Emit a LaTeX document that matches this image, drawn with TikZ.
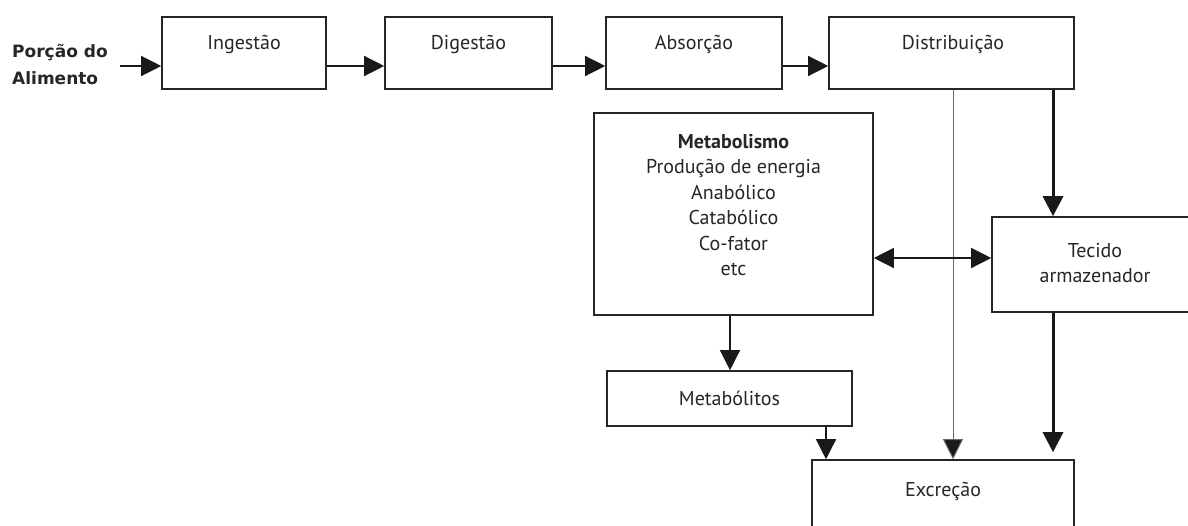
\documentclass[tikz,border=0pt]{standalone}
\usepackage{fontspec}
\setmainfont{PT Sans}
\newfontfamily\lblfont{DejaVu Sans}
\usetikzlibrary{arrows.meta}
\begin{document}
\begin{tikzpicture}[x=1pt,y=-1pt,
  box/.style={draw=black!85, line width=1.6pt, rectangle, inner sep=0pt},
  txt/.style={font=\fontsize{20}{25.5}\selectfont, text=black!85, inner sep=0pt, align=center},
  arr/.style={draw=black!90, line width=1.3pt, -{Triangle[length=20pt,width=20pt]}},
  darr/.style={draw=black!90, line width=1.3pt, {Triangle[length=20pt,width=20pt]}-{Triangle[length=20pt,width=20pt]}},
  thinarr/.style={draw=black!60, line width=1pt, -{Triangle[length=20pt,width=20pt,fill=black!90]}},
  thickarr/.style={draw=black!90, line width=3pt, -{Triangle[length=20pt,width=20pt]}}]
\clip (0,0) rectangle (1188,525);
\fill[white] (0,0) rectangle (1188,525);

% boxes
\node[box, minimum width=164pt, minimum height=72pt] (ing) at (244,53) {};
\node[box, minimum width=167pt, minimum height=72pt] (dig) at (468.5,53) {};
\node[box, minimum width=176pt, minimum height=72pt] (abs) at (694,53) {};
\node[box, minimum width=245pt, minimum height=72pt] (dis) at (951.5,53) {};
\node[box, minimum width=279pt, minimum height=202pt] (met) at (733.5,214) {};
\node[box, minimum width=206pt, minimum height=95pt] (tec) at (1095,264.5) {};
\node[box, minimum width=245pt, minimum height=55pt] (mtb) at (729.5,398.5) {};
\node[box, minimum width=262pt, minimum height=110pt] (exc) at (943,515) {};

% texts
\node[txt] (ting) at (244,44) {Ingestão};
\node[txt] (tdig) at (468.5,44) {Digestão};
\node[txt] (tabs) at (694,44) {Absorção};
\node[txt] (tdis) at (953,44) {Distribuição};
\node[txt, anchor=north] (tmet) at (733.5,134) {\textbf{Metabolismo}\\Produção de energia\\Anabólico\\Catabólico\\Co-fator\\etc};
\node[txt] (ttec) at (1095,263) {Tecido\\armazenador};
\node[txt] (tmtb) at (729.5,398) {Metabólitos};
\node[txt] (texc) at (943,491) {Excreção};
\node[anchor=west, inner sep=0pt, align=left, font=\lblfont\bfseries\fontsize{17}{27}\selectfont, text=black!85] (food) at (12,65) {Porção do\\Alimento};

% connector coordinates
\coordinate (a0) at (120,66);
\coordinate (xthin) at (953,0);
\coordinate (xthick) at (1053,0);
\coordinate (ymt) at (0,258);
\coordinate (xm) at (730,0);
\coordinate (xe) at (826,0);

\draw[arr] (a0) -- (a0 -| ing.west);
\draw[arr] (ing.east |- a0) -- (dig.west |- a0);
\draw[arr] (dig.east |- a0) -- (abs.west |- a0);
\draw[arr] (abs.east |- a0) -- (dis.west |- a0);
\draw[thinarr] (dis.south -| xthin) -- (exc.north -| xthin);
\draw[thickarr] (dis.south -| xthick) -- (tec.north -| xthick);
\draw[thickarr, shorten >=7pt] (tec.south -| xthick) -- (exc.north -| xthick);
\draw[darr] (met.east |- ymt) -- (tec.west |- ymt);
\draw[arr] (met.south -| xm) -- (mtb.north -| xm);
\draw[arr] (mtb.south -| xe) -- (exc.north -| xe);
\end{tikzpicture}
\end{document}
